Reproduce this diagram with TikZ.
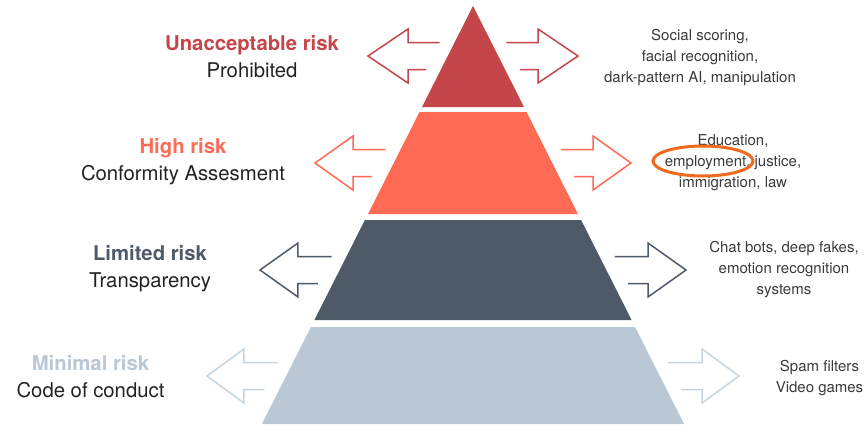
\documentclass[tikz,border=0pt]{standalone}
\usepackage{fontspec}
\setmainfont{TeX Gyre Heros}
\usetikzlibrary{shapes}

\definecolor{unaccRed}{HTML}{C4454A}
\definecolor{highCoral}{HTML}{FF6A55}
\definecolor{limitedSlate}{HTML}{4E5A67}
\definecolor{minimalBlue}{HTML}{B9C8D4}
\definecolor{minimalLine}{HTML}{C6D4DE}
\definecolor{labelDark}{HTML}{222222}
\definecolor{caseDark}{HTML}{3A3A3A}
\definecolor{emplOrange}{HTML}{EE6A1F}

\begin{document}
\begin{tikzpicture}[x = 1pt, y = -1pt]
	\tikzstyle{arrowStyle} = [line width = 1.5pt, line join = miter]
	\tikzstyle{levelStyle} = [align = center, inner sep = 0pt, font = \fontsize{20.3}{27}\selectfont, text = labelDark]
	\tikzstyle{caseStyle} = [align = center, inner sep = 0pt, font = \fontsize{15}{21}\selectfont, text = caseDark]
	\useasboundingbox (-473, 0) rectangle (393, 424);
	\fill[unaccRed] (0, 6) -- (51, 107) -- (-51, 107) -- cycle;
	\fill[highCoral] (-53.5, 112) -- (53.5, 112) -- (105, 214) -- (-105, 214) -- cycle;
	\fill[limitedSlate] (-108.1, 220) -- (108.1, 220) -- (158.6, 320) -- (-158.6, 320) -- cycle;
	\fill[minimalBlue] (-162.1, 327) -- (162.1, 327) -- (211.1, 424) -- (-211.1, 424) -- cycle;
	\draw[arrowStyle, unaccRed] (-33.4, 42.5) -- (-65, 42.5) -- (-65, 29) -- (-105, 56) -- (-65, 83) -- (-65, 69.5) -- (-47.1, 69.5);
	\draw[arrowStyle, unaccRed] (33.4, 42.5) -- (65, 42.5) -- (65, 29) -- (105, 56) -- (65, 83) -- (65, 69.5) -- (47.1, 69.5);
	\draw[arrowStyle, highCoral] (-87.5, 149.5) -- (-120, 149.5) -- (-120, 136) -- (-158, 163) -- (-120, 190) -- (-120, 176.5) -- (-101.1, 176.5);
	\draw[arrowStyle, highCoral] (87.5, 149.5) -- (120, 149.5) -- (120, 136) -- (158, 163) -- (120, 190) -- (120, 176.5) -- (101.1, 176.5);
	\draw[arrowStyle, limitedSlate] (-141.5, 256.5) -- (-175, 256.5) -- (-175, 243) -- (-213, 270) -- (-175, 297) -- (-175, 283.5) -- (-155.1, 283.5);
	\draw[arrowStyle, limitedSlate] (141.5, 256.5) -- (175, 256.5) -- (175, 243) -- (213, 270) -- (175, 297) -- (175, 283.5) -- (155.1, 283.5);
	\draw[arrowStyle, minimalLine] (-195, 362.5) -- (-229, 362.5) -- (-229, 349) -- (-266, 376) -- (-229, 403) -- (-229, 389.5) -- (-208.7, 389.5);
	\draw[arrowStyle, minimalLine] (195, 362.5) -- (229, 362.5) -- (229, 349) -- (266, 376) -- (229, 403) -- (229, 389.5) -- (208.7, 389.5);
	\node[levelStyle] (lev0) at (-221, 56.5) {{\bfseries\color{unaccRed}Unacceptable risk}\\Prohibited};
	\node[levelStyle] (lev1) at (-290, 162) {{\bfseries\color{highCoral}High risk}\\Conformity Assesment};
	\node[levelStyle] (lev2) at (-323, 269) {{\bfseries\color{limitedSlate}Limited risk}\\Transparency};
	\node[levelStyle] (lev3) at (-382.5, 376.5) {{\bfseries\color{minimalBlue}Minimal risk}\\Code of conduct};
	\node[caseStyle] (case0) at (227, 58) {Social scoring,\\facial recognition,\\dark-pattern AI, manipulation};
	\node[caseStyle] (case1) at (260, 163) {Education,\\employment, justice,\\immigration, law};
	\node[caseStyle] (case2) at (311, 269.5) {Chat bots, deep fakes,\\emotion recognition\\systems};
	\node[caseStyle] (case3) at (346.5, 378.5) {Spam filters\\Video games};
	\node[draw = emplOrange, line width = 3pt, shape = ellipse, minimum width = 100pt, minimum height = 30pt, inner sep = 0pt] (empl) at (230, 161) {};
\end{tikzpicture}
\end{document}
